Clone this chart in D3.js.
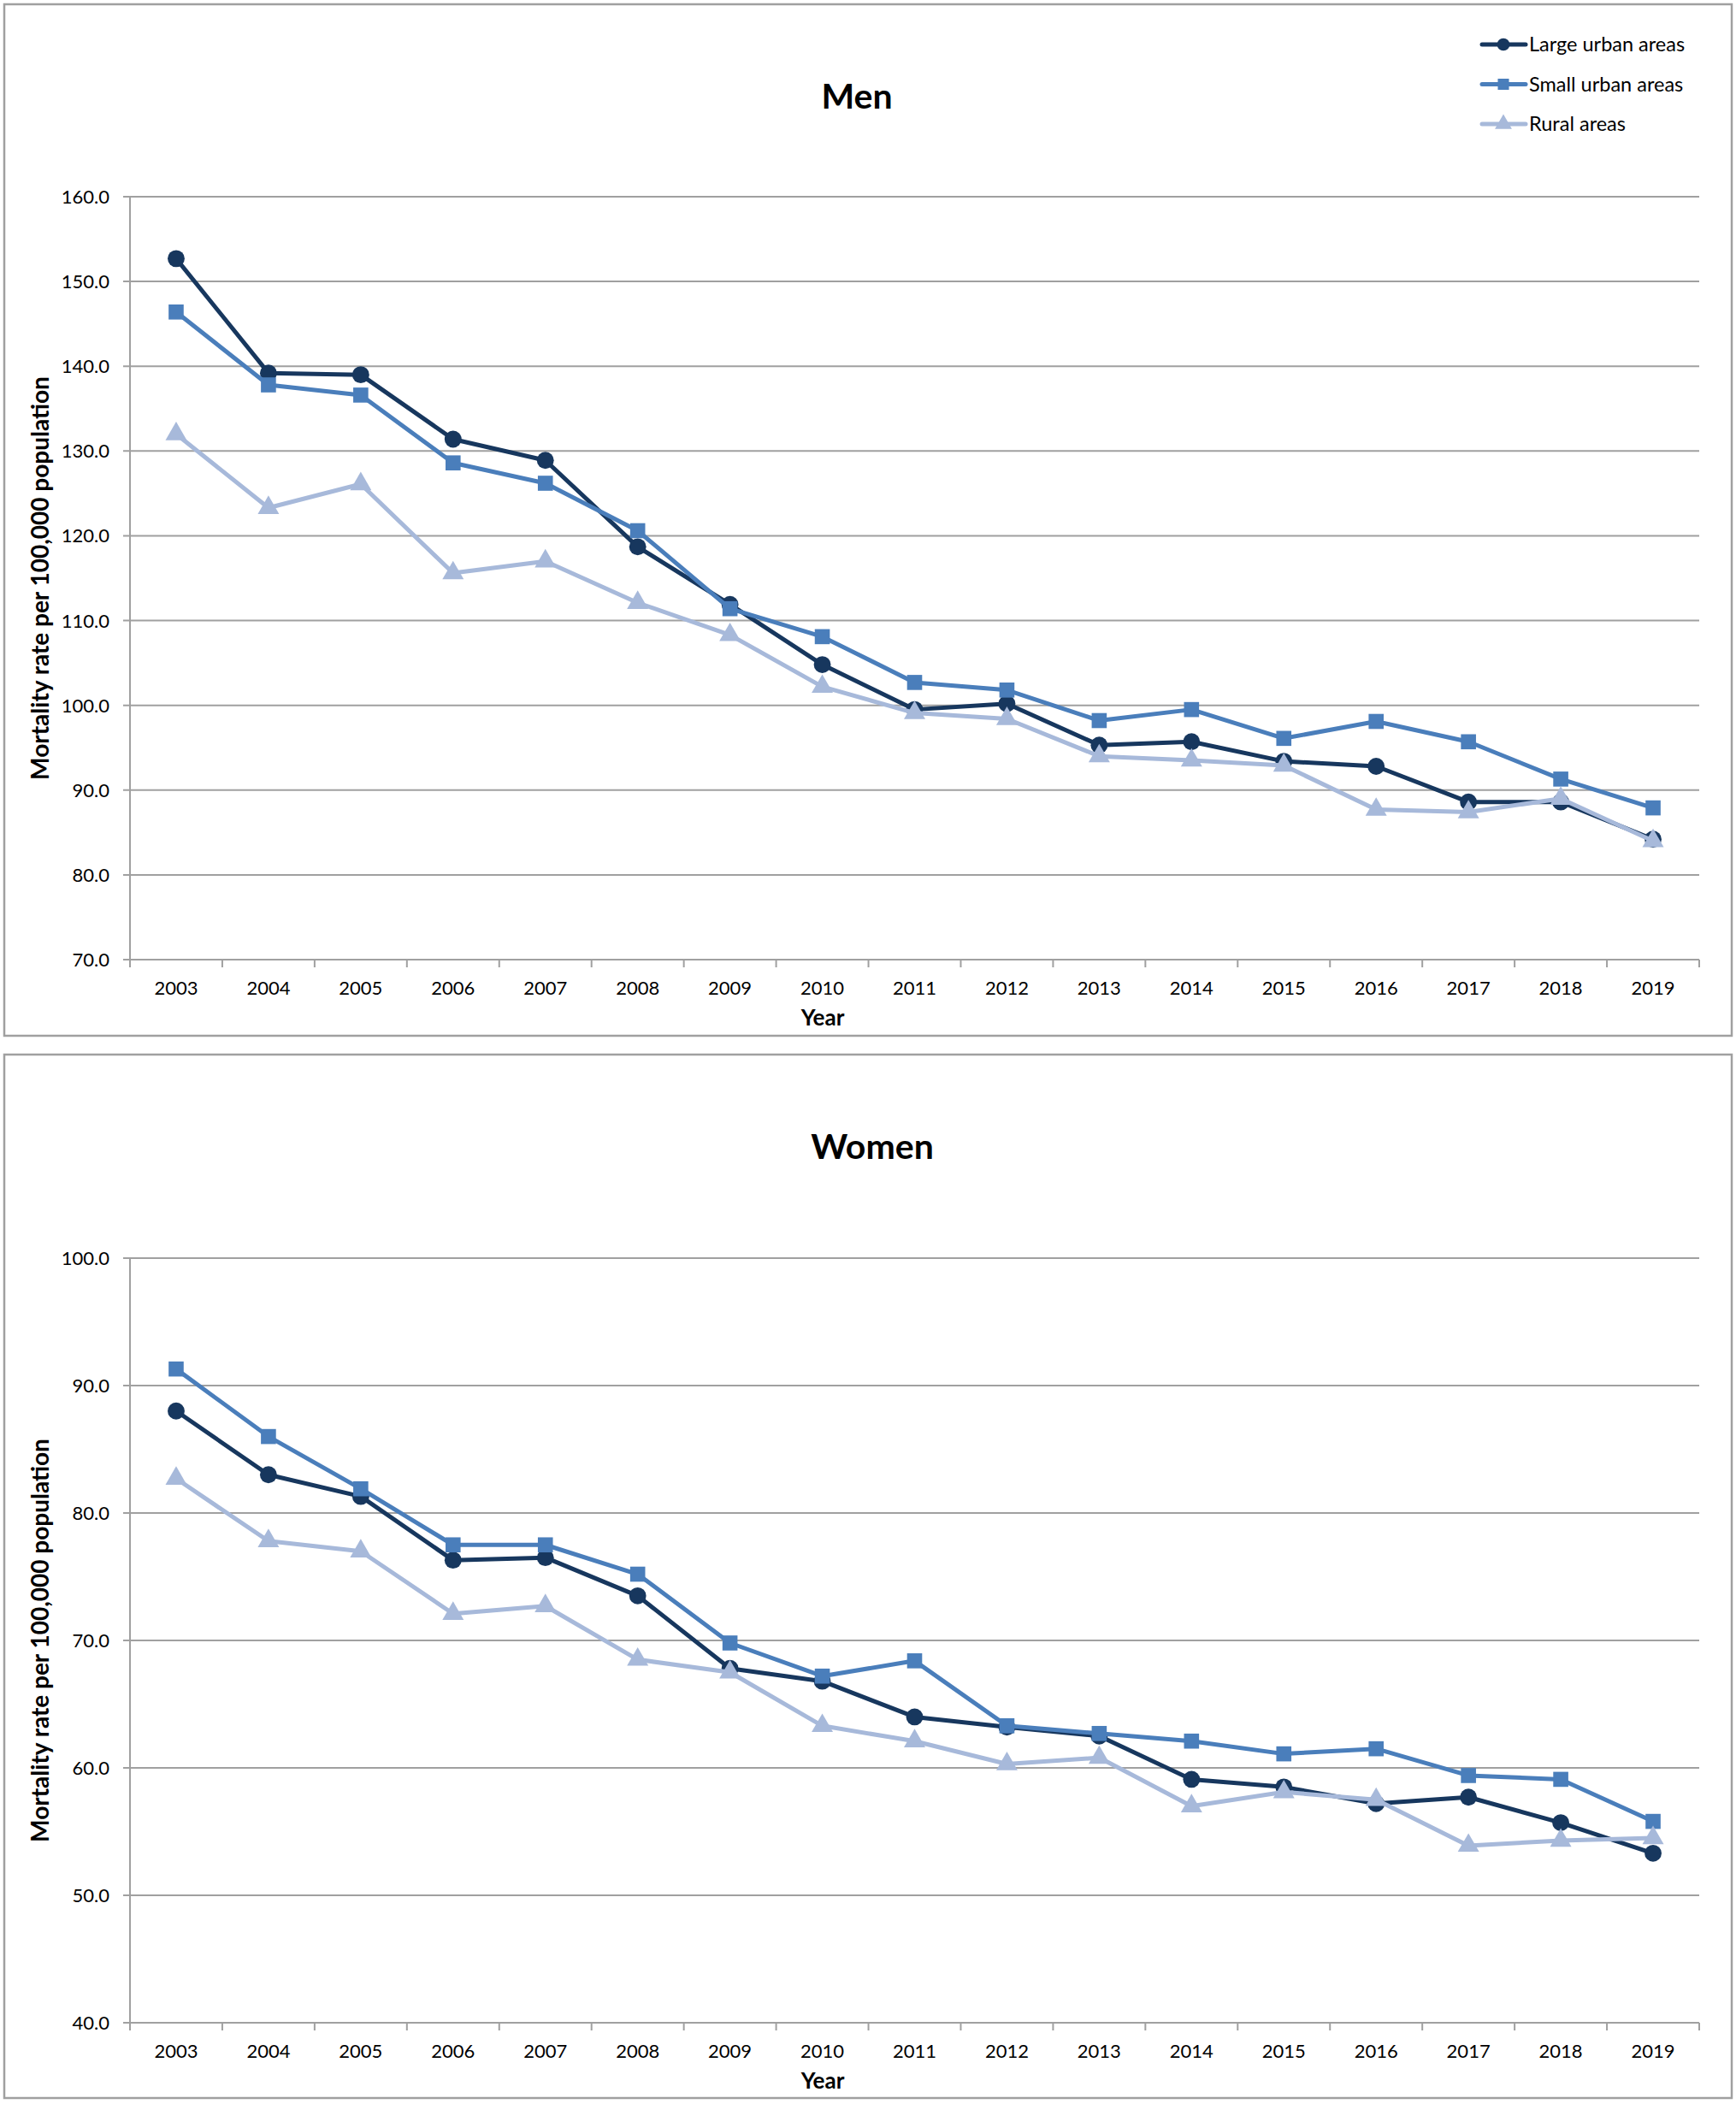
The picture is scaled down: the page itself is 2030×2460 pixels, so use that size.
<!DOCTYPE html>
<html>
<head>
<meta charset="utf-8">
<script src="https://cdn.jsdelivr.net/npm/d3@7"></script>
<style>
  body { margin: 0; background: #fff; }
  text { font-family: Lato, "Open Sans", sans-serif; fill: #000; }
</style>
</head>
<body>
<script>
let years = [2003,2004,2005,2006,2007,2008,2009,2010,2011,2012,2013,2014,2015,2016,2017,2018,2019]
let seriesNames = ["Large urban areas", "Small urban areas", "Rural areas"]

let menLarge = [152.7,139.2,139.0,131.4,128.9,118.7,111.9,104.8,99.5,100.2,95.3,95.7,93.4,92.8,88.6,88.6,84.2]
let menSmall = [146.4,137.8,136.6,128.6,126.2,120.6,111.4,108.1,102.7,101.8,98.2,99.5,96.1,98.1,95.7,91.3,87.9]
let menRural = [132.0,123.3,126.1,115.6,117.0,112.1,108.3,102.2,99.1,98.4,94.0,93.5,92.9,87.7,87.4,89.0,84.0]
let menTicks = [70,80,90,100,110,120,130,140,150,160]

let womenLarge = [88.0,83.0,81.3,76.3,76.5,73.5,67.8,66.8,64.0,63.2,62.5,59.1,58.5,57.2,57.7,55.7,53.3]
let womenSmall = [91.3,86.0,81.9,77.5,77.5,75.2,69.8,67.2,68.4,63.3,62.7,62.1,61.1,61.5,59.4,59.1,55.8]
let womenRural = [82.7,77.8,77.0,72.1,72.7,68.5,67.5,63.3,62.1,60.3,60.8,57.0,58.1,57.5,53.9,54.3,54.5]
let womenTicks = [40,50,60,70,80,90,100]

let colors = ["#17375e", "#4a7ebb", "#a7b9da"]
let shapes = [d3.symbolCircle, d3.symbolSquare, d3.symbolTriangle]

let svg = d3.select("body").append("svg").attr("width", 2030).attr("height", 2460)

function drawPanel(opt) {
  let g = svg.append("g")
  g.append("rect")
    .attr("x", 5).attr("y", opt.top)
    .attr("width", 2020).attr("height", opt.height)
    .attr("fill", "none").attr("stroke", "#a0a0a0").attr("stroke-width", 2.5)

  let x = d3.scaleBand().domain(years).range([152, 1987])
  let y = d3.scaleLinear().domain(d3.extent(opt.ticks)).range([opt.y0, opt.y1])

  // gridlines
  g.selectAll(".grid").data(opt.ticks).join("line")
    .attr("x1", 144).attr("x2", 1987)
    .attr("y1", d => y(d)).attr("y2", d => y(d))
    .attr("stroke", "#a0a0a0").attr("stroke-width", 2)

  // y axis
  g.append("line").attr("x1", 152).attr("x2", 152)
    .attr("y1", y(opt.ticks[opt.ticks.length-1])).attr("y2", y(opt.ticks[0]))
    .attr("stroke", "#a0a0a0").attr("stroke-width", 2)
  g.selectAll(".ylab").data(opt.ticks).join("text")
    .attr("x", 128).attr("y", d => y(d) + 8)
    .attr("text-anchor", "end").attr("font-size", 22)
    .text(d => d.toFixed(1))

  // x axis ticks between categories
  let edges = years.map(d => x(d)).concat([x.range()[1]])
  g.selectAll(".xtick").data(edges).join("line")
    .attr("x1", d => d).attr("x2", d => d)
    .attr("y1", opt.y0).attr("y2", opt.y0 + 9)
    .attr("stroke", "#a0a0a0").attr("stroke-width", 2)
  g.selectAll(".xlab").data(years).join("text")
    .attr("x", d => x(d) + x.bandwidth()/2).attr("y", opt.y0 + 41)
    .attr("text-anchor", "middle").attr("font-size", 22)
    .text(d => d)

  g.append("text").attr("x", 962).attr("y", opt.y0 + 77)
    .attr("text-anchor", "middle").attr("font-size", 26).attr("font-weight", "bold")
    .text("Year")

  g.append("text")
    .attr("transform", "translate(57," + ((opt.y0 + opt.y1)/2) + ") rotate(-90)")
    .attr("text-anchor", "middle").attr("font-size", 28).attr("font-weight", "bold")
    .text("Mortality rate per 100,000 population")

  g.append("text").attr("x", opt.titleX).attr("y", opt.top + 122)
    .attr("text-anchor", "middle").attr("font-size", 41).attr("font-weight", "bold")
    .text(opt.title)

  let line = d3.line()
    .x((d, i) => x(years[i]) + x.bandwidth()/2)
    .y(d => y(d))

  opt.series.forEach(function(s, k) {
    g.append("path").attr("d", line(s))
      .attr("fill", "none").attr("stroke", colors[k]).attr("stroke-width", 5)
      .attr("stroke-linejoin", "round")
    g.selectAll(".m" + k).data(s).join("path")
      .attr("transform", (d, i) => "translate(" + (x(years[i]) + x.bandwidth()/2) + "," + y(d) + ")")
      .attr("d", d3.symbol().type(shapes[k]).size(k == 2 ? 270 : 310))
      .attr("fill", colors[k])
  })
}

drawPanel({title: "Men", titleX: 1002, top: 5, height: 1206, y0: 1122, y1: 230,
  ticks: menTicks, series: [menLarge, menSmall, menRural]})
drawPanel({title: "Women", titleX: 1020, top: 1233, height: 1220, y0: 2365, y1: 1471,
  ticks: womenTicks, series: [womenLarge, womenSmall, womenRural]})

// legend
let legend = svg.append("g")
seriesNames.forEach(function(name, k) {
  let ly = 52 + k * 46.5
  legend.append("line").attr("x1", 1733).attr("x2", 1784).attr("y1", ly).attr("y2", ly)
    .attr("stroke", colors[k]).attr("stroke-width", 5).attr("stroke-linecap", "round")
  legend.append("path").attr("transform", "translate(1758," + ly + ")")
    .attr("d", d3.symbol().type(shapes[k]).size(170))
    .attr("fill", colors[k])
  legend.append("text").attr("x", 1788).attr("y", ly + 8)
    .attr("font-size", 23.5).text(name)
})
</script>
</body>
</html>
